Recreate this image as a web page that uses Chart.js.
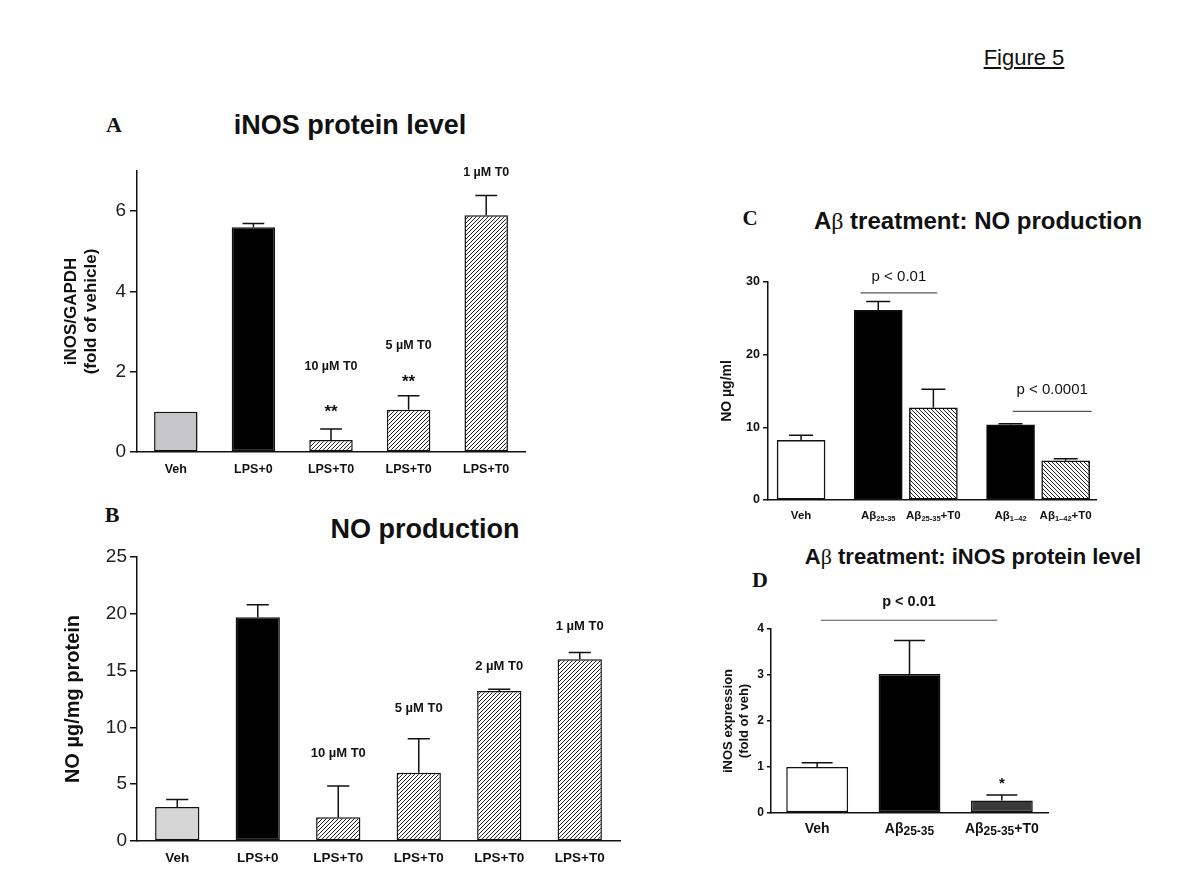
<!DOCTYPE html>
<html lang="en">
<head>
<meta charset="UTF-8" />
<title>Figure 5</title>
<script src="https://cdn.jsdelivr.net/npm/chart.js@4.4.1/dist/chart.umd.min.js"></script>
<style>
  body { margin: 0; background: #fff; font-family: 'Liberation Sans', Arial, sans-serif; }
  #fig { position: relative; width: 1200px; height: 891px; overflow: hidden; }
  canvas { position: absolute; }
  .t { position: absolute; white-space: nowrap; color: #111; font-weight: bold; transform: translate(-50%, -50%); }
  .L { position: absolute; font-family: 'Liberation Serif', serif; font-weight: bold; color: #111; transform: translate(-50%, -50%); }
  .g { font-family: 'Liberation Serif', serif; font-weight: normal; }
</style>
</head>
<body>
<div id="fig">
  <div class="t" style="left:1024px;top:58px;font-size:22px;font-weight:normal;text-decoration:underline">Figure 5</div>

  <div class="L" style="left:114px;top:125px;font-size:22px">A</div>
  <div class="t" style="left:350px;top:125px;font-size:27px">iNOS protein level</div>
  <canvas id="chartA" width="485" height="330" style="left:55px;top:150px"></canvas>

  <div class="L" style="left:112px;top:515px;font-size:22px">B</div>
  <div class="t" style="left:425px;top:529px;font-size:27px">NO production</div>
  <canvas id="chartB" width="580" height="341" style="left:55px;top:530px"></canvas>

  <div class="L" style="left:750px;top:218px;font-size:21px">C</div>
  <div class="t" style="left:978px;top:221px;font-size:24px">A<span class="g">β</span> treatment: NO production</div>
  <canvas id="chartC" width="403" height="269" style="left:705px;top:255px"></canvas>

  <div class="L" style="left:760px;top:580px;font-size:22px">D</div>
  <div class="t" style="left:973px;top:557px;font-size:22px">A<span class="g">β</span> treatment: iNOS protein level</div>
  <canvas id="chartD" width="355" height="254" style="left:705px;top:585px"></canvas>
</div>

<script>
  // ---- data ----
  // A: iNOS protein level (fold of vehicle)
  const aLabels = ['Veh', 'LPS+0', 'LPS+T0', 'LPS+T0', 'LPS+T0'];
  const aMeans = [1.0, 5.6, 0.3, 1.05, 5.9];
  const aSem = [0, 0.09, 0.27, 0.35, 0.49];
  const aTicks = [0, 2, 4, 6];

  // B: NO production (µg/mg protein)
  const bLabels = ['Veh', 'LPS+0', 'LPS+T0', 'LPS+T0', 'LPS+T0', 'LPS+T0'];
  const bMeans = [3.0, 19.7, 2.1, 6.0, 13.2, 16.0];
  const bSem = [0.65, 1.1, 2.75, 3.0, 0.15, 0.6];
  const bTicks = [0, 5, 10, 15, 20, 25];

  // C: Abeta treatment, NO production (µg/ml)
  const cLabels = ['Veh', 'Aβ25-35', 'Aβ25-35+T0', 'Aβ1–42', 'Aβ1–42+T0'];
  const cGroup = [0, 1, 1, 2, 2];
  const cMeans = [8.2, 26.1, 12.7, 10.35, 5.4];
  const cSem = [0.7, 1.2, 2.55, 0.15, 0.27];
  const cTicks = [0, 10, 20, 30];

  // D: Abeta treatment, iNOS protein level (fold of veh)
  const dLabels = ['Veh', 'Aβ25-35', 'Aβ25-35+T0'];
  const dMeans = [1.0, 3.02, 0.27];
  const dSem = [0.09, 0.73, 0.12];
  const dTicks = [0, 1, 2, 3, 4];

  const FONT = "'Liberation Sans', Arial, sans-serif";
  Chart.defaults.font.family = FONT;
  Chart.defaults.color = '#111';

  function hatch(dir) {
    const s = 4, c = document.createElement('canvas');
    c.width = c.height = s;
    const g = c.getContext('2d');
    g.fillStyle = '#fff';
    g.fillRect(0, 0, s, s);
    g.strokeStyle = '#222';
    g.lineWidth = 1;
    g.beginPath();
    if (dir > 0) {
      g.moveTo(0, s); g.lineTo(s, 0);
      g.moveTo(-1, 1); g.lineTo(1, -1);
      g.moveTo(s - 1, s + 1); g.lineTo(s + 1, s - 1);
    } else {
      g.moveTo(0, 0); g.lineTo(s, s);
      g.moveTo(-1, s - 1); g.lineTo(1, s + 1);
      g.moveTo(s - 1, -1); g.lineTo(s + 1, 1);
    }
    g.stroke();
    return g.createPattern(c, 'repeat');
  }
  const fwd = hatch(1), back = hatch(-1);

  // label with subscript, e.g. Aβ25-35+T0
  function richLabel(ctx, text, cx, base, big, small, drop) {
    const m = text.match(/^(Aβ)(\d+[-–]\d+)(.*)$/);
    const parts = m ? [[m[1], big, 0], [m[2], small, drop], [m[3], big, 0]] : [[text, big, 0]];
    let w = 0;
    parts.forEach(p => { ctx.font = p[1]; p.push(ctx.measureText(p[0]).width); w += p[3]; });
    let px = cx - w / 2;
    ctx.textAlign = 'left';
    ctx.textBaseline = 'alphabetic';
    parts.forEach(p => { ctx.font = p[1]; ctx.fillText(p[0], px, base + p[2]); px += p[3]; });
  }

  // error bars, notes, p-value brackets, subscript x labels
  const extras = {
    id: 'extras',
    afterDatasetsDraw(chart, args, o) {
      const ctx = chart.ctx, x = chart.scales.x, y = chart.scales.y;
      const bars = chart.getDatasetMeta(0).data;
      ctx.save();
      ctx.strokeStyle = '#111';
      ctx.lineWidth = 1.5;
      bars.forEach((bar, i) => {
        if (!o.sem[i]) return;
        const top = y.getPixelForValue(o.mean[i] + o.sem[i]);
        const half = bar.width * 0.25;
        ctx.beginPath();
        ctx.moveTo(bar.x, bar.y); ctx.lineTo(bar.x, top);
        ctx.moveTo(bar.x - half, top); ctx.lineTo(bar.x + half, top);
        ctx.stroke();
      });
      ctx.fillStyle = '#111';
      (o.notes || []).forEach(n => {
        ctx.font = n.font;
        ctx.textAlign = 'center';
        ctx.textBaseline = 'middle';
        ctx.fillText(n.text, bars[n.bar].x, y.getPixelForValue(n.y));
      });
      (o.brackets || []).forEach(b => {
        const x1 = x.getPixelForValue(b.x1), x2 = x.getPixelForValue(b.x2);
        const py = y.getPixelForValue(b.y);
        ctx.strokeStyle = '#555';
        ctx.lineWidth = 1.2;
        ctx.beginPath();
        ctx.moveTo(x1, py); ctx.lineTo(x2, py);
        ctx.stroke();
        ctx.font = b.font;
        ctx.textAlign = 'center';
        ctx.textBaseline = 'middle';
        ctx.fillText(b.text, (x1 + x2) / 2, y.getPixelForValue(b.ty));
      });
      if (o.xLabels) {
        const L = o.xLabels;
        L.text.forEach((t, i) => richLabel(ctx, t, bars[i].x, x.top + L.base, L.big, L.small, L.drop));
      }
      ctx.restore();
    }
  };

  function barChart(id, o) {
    return new Chart(document.getElementById(id), {
      type: 'bar',
      data: {
        labels: o.labels,
        datasets: [{
          data: o.data,
          backgroundColor: o.fills,
          borderColor: '#111',
          borderWidth: 1.5,
          borderSkipped: false,
          barPercentage: o.barPct || 0.9,
          categoryPercentage: 1,
          barThickness: o.thick
        }]
      },
      options: {
        responsive: false,
        animation: false,
        layout: { padding: { top: o.padTop, right: o.padRight, left: 0, bottom: 0 } },
        plugins: {
          legend: { display: false },
          tooltip: { enabled: false },
          extras: o.extras
        },
        scales: {
          x: Object.assign({
            grid: { display: false, drawTicks: false },
            border: { display: true, color: '#111', width: 1.5 },
            ticks: o.xTicks,
            afterFit: s => { s.height = o.xHeight; }
          }, o.xScale || {}),
          y: {
            min: 0,
            max: o.yMax,
            afterBuildTicks: s => { s.ticks = o.yTicks.map(v => ({ value: v })); },
            afterFit: s => { s.width = o.yWidth; },
            grid: { drawOnChartArea: false, drawTicks: true, tickLength: o.tickLen, color: '#111', lineWidth: 1.5 },
            border: { display: true, color: '#111', width: 1.5 },
            ticks: { font: o.yFont, color: o.yColor, padding: o.yPad },
            title: {
              display: true,
              text: o.yTitle,
              font: { size: o.yTitleSize, weight: 'bold' },
              color: '#111',
              padding: { top: o.yTitlePad, bottom: 0 }
            }
          }
        }
      },
      plugins: [extras]
    });
  }

  const note = (bar, y, text, font) => ({ bar, y, text, font });

  // A
  barChart('chartA', {
    labels: aLabels, data: aMeans,
    fills: ['#c6c6c8', '#000', fwd, fwd, fwd],
    barPct: 0.56, padTop: 21, padRight: 15, xHeight: 28, yWidth: 82,
    yMax: 7, yTicks: aTicks, tickLen: 7, yPad: 4,
    yFont: { size: 19 }, yColor: '#222',
    yTitle: ['iNOS/GAPDH', '(fold of vehicle)'], yTitleSize: 17, yTitlePad: 6,
    xTicks: { font: { size: 12.5, weight: 'bold' }, color: '#111', padding: 10 },
    extras: {
      mean: aMeans, sem: aSem,
      notes: [
        note(2, 2.14, '10 µM T0', 'bold 12.5px ' + FONT),
        note(2, 0.99, '**', 'bold 17px ' + FONT),
        note(3, 2.64, '5 µM T0', 'bold 12.5px ' + FONT),
        note(3, 1.74, '**', 'bold 17px ' + FONT),
        note(4, 6.96, '1 µM T0', 'bold 12.5px ' + FONT)
      ]
    }
  });

  // B
  barChart('chartB', {
    labels: bLabels, data: bMeans,
    fills: ['#d6d6d6', '#000', fwd, fwd, fwd, fwd],
    barPct: 0.55, padTop: 27, padRight: 15, xHeight: 30, yWidth: 82,
    yMax: 25, yTicks: bTicks, tickLen: 7, yPad: 3,
    yFont: { size: 19 }, yColor: '#222',
    yTitle: 'NO µg/mg protein', yTitleSize: 20, yTitlePad: 6,
    xTicks: { font: { size: 13.5, weight: 'bold' }, color: '#111', padding: 9 },
    extras: {
      mean: bMeans, sem: bSem,
      notes: [
        note(2, 7.7, '10 µM T0', 'bold 13px ' + FONT),
        note(3, 11.7, '5 µM T0', 'bold 13px ' + FONT),
        note(4, 15.4, '2 µM T0', 'bold 13px ' + FONT),
        note(5, 18.9, '1 µM T0', 'bold 13px ' + FONT)
      ]
    }
  });

  // C: bars placed on a linear x axis, with a gap between groups
  barChart('chartC', {
    labels: cLabels,
    data: cMeans.map((v, i) => ({ x: i + cGroup[i] * 0.4, y: v })),
    fills: ['#fff', '#000', back, '#000', back],
    thick: 48, padTop: 27, padRight: 12, xHeight: 24, yWidth: 63,
    yMax: 30, yTicks: cTicks, tickLen: 5, yPad: 3,
    yFont: { size: 12.5, weight: 'bold' }, yColor: '#111',
    yTitle: 'NO µg/ml', yTitleSize: 14, yTitlePad: 13.6,
    xTicks: { display: false },
    xScale: { type: 'linear', min: -0.6, max: 5.35, offset: false },
    extras: {
      mean: cMeans, sem: cSem,
      brackets: [
        { x1: 1.08, x2: 2.47, y: 28.5, ty: 30.7, text: 'p < 0.01', font: '15px ' + FONT },
        { x1: 3.84, x2: 5.27, y: 12.2, ty: 15.1, text: 'p < 0.0001', font: '15px ' + FONT }
      ],
      xLabels: { text: cLabels, base: 18.5, big: 'bold 11.5px ' + FONT, small: 'bold 7.5px ' + FONT, drop: 2.5 }
    }
  });

  // D
  barChart('chartD', {
    labels: dLabels, data: dMeans,
    fills: ['#fff', '#000', '#3a3a3a'],
    barPct: 0.67, padTop: 44, padRight: 12, xHeight: 26, yWidth: 66,
    yMax: 4, yTicks: dTicks, tickLen: 4, yPad: 3,
    yFont: { size: 12, weight: 'bold' }, yColor: '#111',
    yTitle: ['iNOS expression', '(fold of veh)'], yTitleSize: 13, yTitlePad: 16,
    xTicks: { display: false },
    extras: {
      mean: dMeans, sem: dSem,
      notes: [note(2, 0.64, '*', 'bold 15px ' + FONT)],
      brackets: [
        { x1: 0.04, x2: 1.95, y: 4.19, ty: 4.59, text: 'p < 0.01', font: 'bold 14.5px ' + FONT }
      ],
      xLabels: { text: dLabels, base: 19.5, big: 'bold 14px ' + FONT, small: 'bold 12px ' + FONT, drop: 2 }
    }
  });
</script>
</body>
</html>
